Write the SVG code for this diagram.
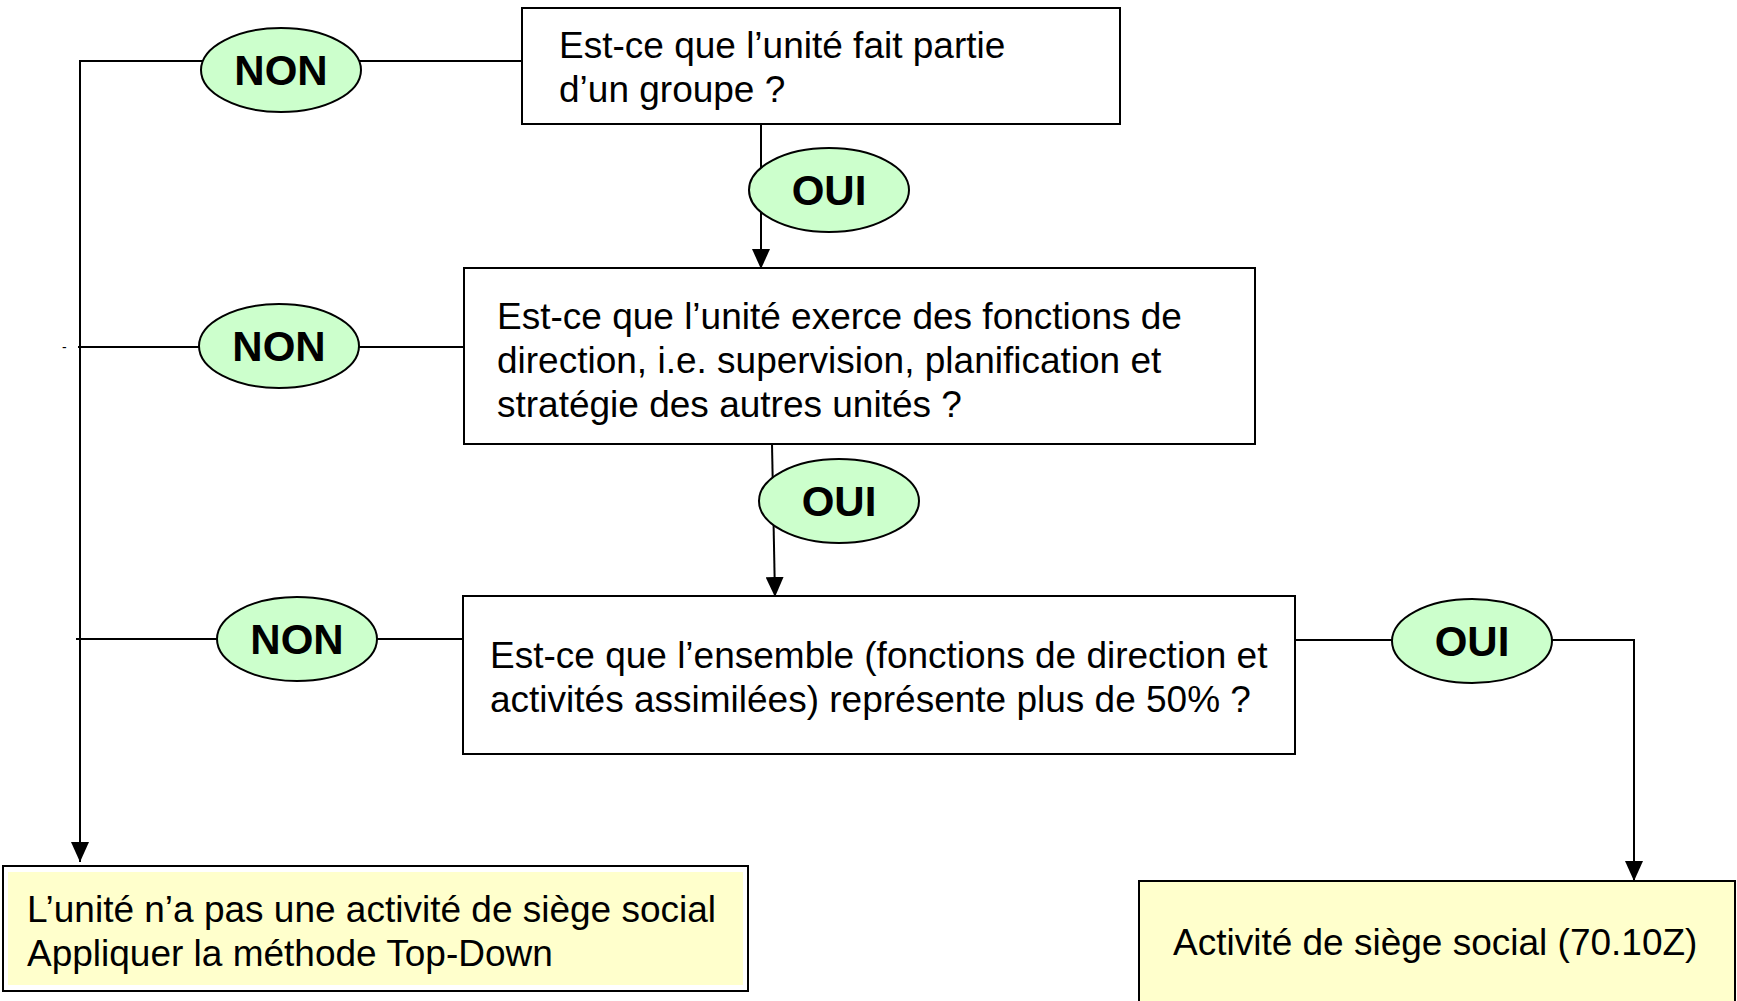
<svg xmlns="http://www.w3.org/2000/svg" width="1737" height="1001" viewBox="0 0 1737 1001">
<style>
.box{fill:#fff;stroke:#000;stroke-width:2}
.res{fill:#FFFFCC;stroke:#000;stroke-width:2}
.lbl{fill:#CCFFCC;stroke:#000;stroke-width:2}
.t{font-family:"Liberation Sans",Arial,sans-serif;font-size:37px;fill:#000}
.b{font-family:"Liberation Sans",Arial,sans-serif;font-size:42px;font-weight:bold;fill:#000;text-anchor:middle}
.c{fill:none;stroke:#000;stroke-width:2}
</style>
<defs>
<marker id="ah" viewBox="0 0 20 18" refX="20" refY="9" markerWidth="20" markerHeight="18" markerUnits="userSpaceOnUse" orient="auto">
<path d="M0,0 L20,9 L0,18 z" fill="#000"/>
</marker>
</defs>
<g id="connectors">
<polyline class="c" points="522,61 80,61 80,862" marker-end="url(#ah)"/>
<line class="c" x1="78" y1="347" x2="464" y2="347"/>
<line class="c" x1="76" y1="639" x2="463" y2="639"/>
<line class="c" x1="761" y1="124" x2="761" y2="269" marker-end="url(#ah)"/>
<line class="c" x1="772" y1="444" x2="775" y2="597" marker-end="url(#ah)"/>
<polyline class="c" points="1295,640 1634,640 1634,881" marker-end="url(#ah)"/>
</g>
<g id="q1"><rect class="box" x="522" y="8" width="598" height="116"/>
<text class="t" x="559" y="58">Est-ce que l’unité fait partie</text>
<text class="t" x="559" y="102">d’un groupe ?</text></g>
<g id="q2"><rect class="box" x="464" y="268" width="791" height="176"/>
<text class="t" x="497" y="329">Est-ce que l’unité exerce des fonctions de</text>
<text class="t" x="497" y="373">direction, i.e. supervision, planification et</text>
<text class="t" x="497" y="417">stratégie des autres unités ?</text></g>
<g id="q3"><rect class="box" x="463" y="596" width="832" height="158"/>
<text class="t" x="490" y="668">Est-ce que l’ensemble (fonctions de direction et</text>
<text class="t" x="490" y="712">activités assimilées) représente plus de 50% ?</text></g>
<g id="r1"><rect class="box" x="3" y="866" width="745" height="125"/>
<rect x="8" y="872" width="735" height="113" fill="#FFFFCC"/>
<text class="t" x="27" y="922">L’unité n’a pas une activité de siège social</text>
<text class="t" x="27" y="966">Appliquer la méthode Top-Down</text></g>
<g id="r2"><rect class="res" x="1139" y="881" width="596" height="130"/>
<text class="t" x="1173" y="955">Activité de siège social (70.10Z)</text></g>
<g id="non1"><ellipse class="lbl" cx="281" cy="70" rx="80" ry="42"/><text class="b" x="281" y="85">NON</text></g>
<g id="non2"><ellipse class="lbl" cx="279" cy="346" rx="80" ry="42"/><text class="b" x="279" y="361">NON</text></g>
<g id="non3"><ellipse class="lbl" cx="297" cy="639" rx="80" ry="42"/><text class="b" x="297" y="654">NON</text></g>
<g id="oui1"><ellipse class="lbl" cx="829" cy="190" rx="80" ry="42"/><text class="b" x="829" y="205">OUI</text></g>
<g id="oui2"><ellipse class="lbl" cx="839" cy="501" rx="80" ry="42"/><text class="b" x="839" y="516">OUI</text></g>
<g id="oui3"><ellipse class="lbl" cx="1472" cy="641" rx="80" ry="42"/><text class="b" x="1472" y="656">OUI</text></g>
<text x="62" y="352" style="font-family:'Liberation Sans',Arial,sans-serif;font-size:14px">-</text>
</svg>
